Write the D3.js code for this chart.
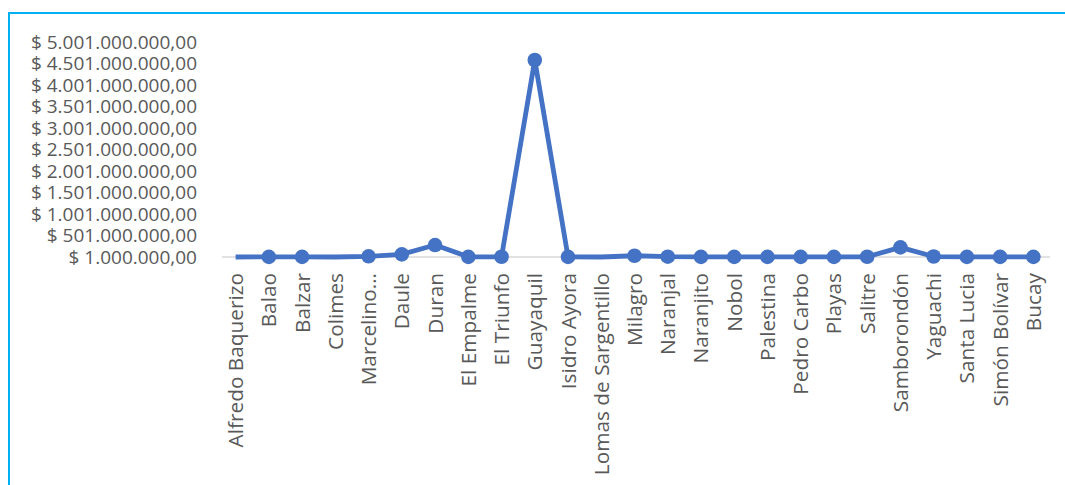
<!DOCTYPE html>
<html lang="es">
<head>
<meta charset="UTF-8">
<title>Cantones</title>
<style>
  body { margin: 0; background: #fff; }
  svg { display: block; font-family: "Open Sans", "Noto Sans", sans-serif; }
</style>
</head>
<body>
<div id="chart"></div>
<script src="https://d3js.org/d3.v7.min.js"></script>
<script>
  // cantones y montos
  var cantones = ["Alfredo Baquerizo", "Balao", "Balzar", "Colimes", "Marcelino…", "Daule", "Duran",
    "El Empalme", "El Triunfo", "Guayaquil", "Isidro Ayora", "Lomas de Sargentillo", "Milagro",
    "Naranjal", "Naranjito", "Nobol", "Palestina", "Pedro Carbo", "Playas", "Salitre",
    "Samborondón", "Yaguachi", "Santa Lucia", "Simón Bolívar", "Bucay"];
  var montos = [0, 3000000, 4000000, 0, 17000000, 63000000, 279000000,
    5000000, 6000000, 4582000000, 3000000, 0, 30000000,
    8000000, 4000000, 5000000, 3000000, 4000000, 5000000, 6000000,
    225000000, 12000000, 4000000, 3000000, 4000000];
  var ticksY = [1000000, 501000000, 1001000000, 1501000000, 2001000000, 2501000000,
    3001000000, 3501000000, 4001000000, 4501000000, 5001000000];

  var width = 1065, height = 485;
  var margin = {top: 42, left: 219, right: 15, bottom: 228};

  var svg = d3.select("#chart").append("svg")
    .attr("width", width)
    .attr("height", height);

  // borde celeste (solo arriba e izquierda visibles)
  svg.append("path")
    .attr("d", "M9,486 L9,13 L1066,13")
    .attr("fill", "none")
    .attr("stroke", "#00B0F0")
    .attr("stroke-width", 2);

  var loc = d3.formatLocale({decimal: ",", thousands: ".", grouping: [3], currency: ["$ ", ""]});
  var fmt = loc.format("$,.2f");

  var x = d3.scaleBand()
    .domain(cantones)
    .range([margin.left, width - margin.right]);

  var y = d3.scaleLinear()
    .domain([ticksY[0], ticksY[ticksY.length - 1]])
    .range([height - margin.bottom, margin.top]);

  var cx = function(d) { return x(d) + x.bandwidth() / 2; };

  // etiquetas eje Y
  svg.append("g").selectAll("text")
    .data(ticksY)
    .enter()
    .append("text")
      .attr("x", 197)
      .attr("y", function(d) { return y(d); })
      .attr("dy", "0.36em")
      .attr("text-anchor", "end")
      .attr("font-size", "19px")
      .attr("fill", "#595959")
      .text(function(d) { return fmt(d); });

  // linea base
  svg.append("line")
    .attr("x1", margin.left + 3)
    .attr("x2", width - margin.right)
    .attr("y1", y(ticksY[0]))
    .attr("y2", y(ticksY[0]))
    .attr("stroke", "#D9D9D9")
    .attr("stroke-width", 1.3);

  // etiquetas eje X
  svg.append("g").selectAll("text")
    .data(cantones)
    .enter()
    .append("text")
      .attr("transform", function(d) { return "translate(" + cx(d) + "," + 273 + ") rotate(-90)"; })
      .attr("dy", "0.36em")
      .attr("text-anchor", "end")
      .attr("font-size", "20.8px")
      .attr("fill", "#595959")
      .text(function(d) { return d; });

  var datos = cantones.map(function(c, i) { return {c: c, v: montos[i]}; });
  var yv = function(v) { return y(Math.max(v, ticksY[0])); };

  svg.append("path")
    .datum(datos)
    .attr("fill", "none")
    .attr("stroke", "#4472C4")
    .attr("stroke-width", 4.8)
    .attr("stroke-linejoin", "round")
    .attr("d", d3.line()
      .x(function(d) { return cx(d.c); })
      .y(function(d) { return yv(d.v); }));

  // marcadores (valores bajo el minimo del eje no se dibujan)
  svg.append("g").selectAll("circle")
    .data(datos.filter(function(d) { return d.v >= ticksY[0]; }))
    .enter()
    .append("circle")
      .attr("cx", function(d) { return cx(d.c); })
      .attr("cy", function(d) { return yv(d.v); })
      .attr("r", 7.3)
      .attr("fill", "#4472C4");
</script>
</body>
</html>
